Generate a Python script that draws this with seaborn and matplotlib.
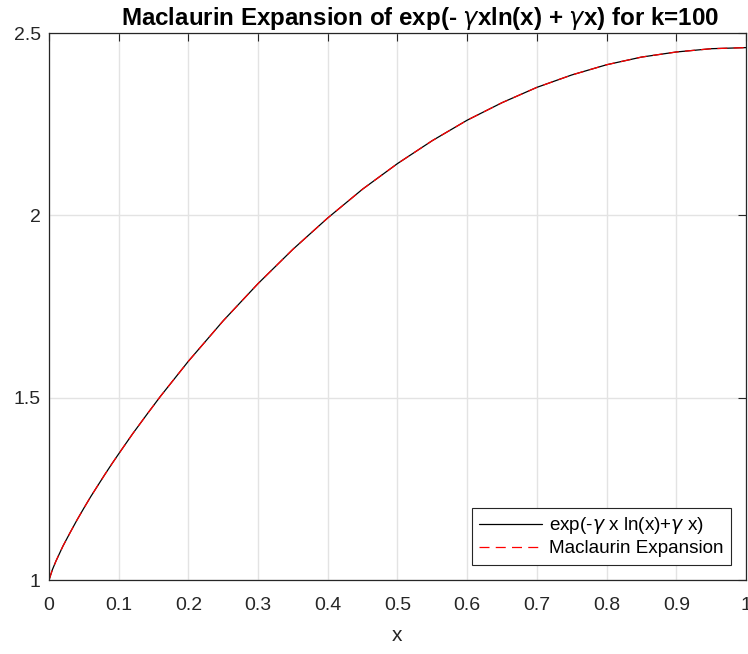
import matplotlib
matplotlib.use("Agg")
import matplotlib.pyplot as plt
import seaborn as sns
import pandas as pd

# values
x_vals = [0.0, 0.005, 0.01, 0.02, 0.03, 0.04, 0.05, 0.06, 0.07, 0.08, 0.09, 0.10,
          0.12, 0.14, 0.16, 0.18, 0.20, 0.25, 0.30, 0.35, 0.40, 0.45, 0.50,
          0.55, 0.60, 0.65, 0.70, 0.75, 0.80, 0.85, 0.90, 0.95, 1.00]
exact_vals = [1.000, 1.029, 1.052, 1.093, 1.129, 1.164, 1.197, 1.229, 1.259, 1.289,
              1.318, 1.346, 1.401, 1.453, 1.504, 1.552, 1.600, 1.711, 1.813, 1.907,
              1.993, 2.072, 2.142, 2.205, 2.261, 2.309, 2.351, 2.385, 2.413, 2.434,
              2.448, 2.457, 2.460]
maclaurin_vals = [1.000, 1.029, 1.052, 1.093, 1.129, 1.164, 1.197, 1.229, 1.259, 1.289,
                  1.318, 1.346, 1.401, 1.453, 1.504, 1.552, 1.600, 1.711, 1.813, 1.907,
                  1.993, 2.072, 2.142, 2.205, 2.261, 2.309, 2.351, 2.385, 2.413, 2.434,
                  2.448, 2.457, 2.460]
x_ticks = [0, 0.1, 0.2, 0.3, 0.4, 0.5, 0.6, 0.7, 0.8, 0.9, 1]
x_tick_labels = ["0", "0.1", "0.2", "0.3", "0.4", "0.5", "0.6", "0.7", "0.8", "0.9", "1"]
y_ticks = [1, 1.5, 2, 2.5]
y_tick_labels = ["1", "1.5", "2", "2.5"]

sns.set_style("white")
plt.rcParams['font.family'] = ['Liberation Sans', 'DejaVu Sans']
plt.rcParams['mathtext.fontset'] = 'dejavusans'

df = pd.DataFrame({"x": x_vals, "exact": exact_vals, "mac": maclaurin_vals})

fig = plt.figure(figsize=(7.48, 6.54), dpi=100)
ax = fig.add_axes([0.0655, 0.1131, 0.9318, 0.8364])

sns.lineplot(data=df, x="x", y="exact", ax=ax, color="black", linewidth=0.9,
             label=r"exp(-$\gamma$ x ln(x)+$\gamma$ x)", sort=False)
sns.lineplot(data=df, x="x", y="mac", ax=ax, color="#ff0000", linewidth=0.9,
             label="Maclaurin Expansion", sort=False, dashes=False)
ax.lines[1].set_dashes((8, 5))

ax.set_xlim(0, 1)
ax.set_ylim(1, 2.5)
ax.set_xticks(x_ticks)
ax.set_xticklabels(x_tick_labels)
ax.set_yticks(y_ticks)
ax.set_yticklabels(y_tick_labels)
ax.grid(True, color="#e3e3e3", linewidth=1.0)
ax.set_axisbelow(True)
for s in ax.spines.values():
    s.set_visible(True)
    s.set_color("#262626")
    s.set_linewidth(0.9)
ax.tick_params(direction="in", length=5.5, width=0.8, colors="#262626",
               top=True, right=True, labelsize=14)
ax.tick_params(axis="x", pad=12)
ax.tick_params(axis="y", pad=6)
for lab in ax.get_xticklabels() + ax.get_yticklabels():
    lab.set_color("#262626")

ax.set_xlabel("x", fontsize=15, color="#262626", labelpad=9)
ax.set_ylabel("")
ax.set_title(r"Maclaurin Expansion of exp(- $\gamma$xln(x) + $\gamma$x) for k=100",
             fontsize=17.4, fontweight="bold", pad=6, color="black", x=0.532)

leg = ax.legend(loc="lower right", fontsize=13.6, frameon=True, fancybox=False,
                framealpha=1, edgecolor="#262626", borderpad=0.4,
                handlelength=3.3, handletextpad=0.37, labelspacing=0.2,
                borderaxespad=0.8)
leg.get_frame().set_linewidth(0.8)
for t in leg.get_texts():
    t.set_color("black")

fig.savefig("out.png", dpi=100)
